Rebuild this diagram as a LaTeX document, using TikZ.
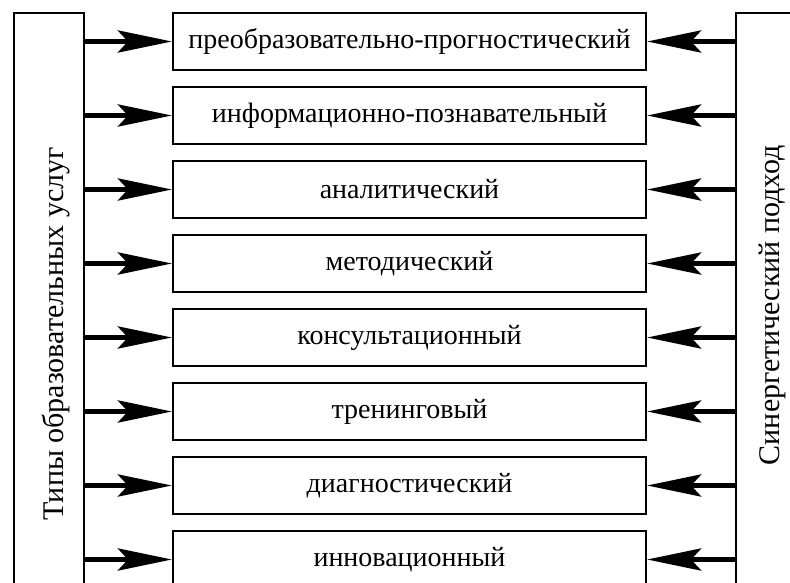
\documentclass[tikz,border=0pt]{standalone}
\usepackage{fontspec}
\setmainfont{Liberation Serif}
\usetikzlibrary{arrows.meta,positioning}

\begin{document}
\begin{tikzpicture}[node distance=7.5pt, font=\fontsize{14}{17}\selectfont]
  \tikzstyle{box}=[draw,line width=1pt,minimum width=236.5pt,minimum height=28.5pt,inner sep=0pt,align=center]
  \tikzstyle{bar}=[draw,line width=1.3pt,rotate=90,inner sep=0pt]
  \tikzstyle{side}=[rotate=90,inner sep=0pt,font=\fontsize{15}{18}\selectfont]
  \tikzstyle{arr}=[-{Stealth[length=27pt,width=11pt,inset=5pt]},line width=2.8pt]
  \useasboundingbox (0,0) rectangle (395pt,-291pt);
  % column of service types
  \node[box] (prog) at (204.75pt,-20.75pt) {преобразовательно-прогностический};
  \node[box,below=of prog] (info) {информационно-познавательный};
  \node[box,below=of info] (anal) {аналитический};
  \node[box,below=of anal] (meth) {методический};
  \node[box,below=of meth] (cons) {консультационный};
  \node[box,below=of cons] (train) {тренинговый};
  \node[box,below=of train] (diag) {диагностический};
  \node[box,below=of diag] (innov) {инновационный};
  % side bars, cut by the page edge
  \node[bar,minimum width=321pt,minimum height=35pt] (types) at (24.5pt,-167pt) {};
  \node[side] (typestxt) at ([xshift=3.5pt]types.center) {Типы образовательных услуг};
  \node[bar,minimum width=292pt,minimum height=36pt] (synerg) at (386pt,-152.5pt) {};
  \node[side] (synergtxt) at (synerg.center) {Синергетический подход};
  % arrows from the left bar
  \draw[arr] (types.south |- prog.west) -- (prog.west);
  \draw[arr] (types.south |- info.west) -- (info.west);
  \draw[arr] (types.south |- anal.west) -- (anal.west);
  \draw[arr] (types.south |- meth.west) -- (meth.west);
  \draw[arr] (types.south |- cons.west) -- (cons.west);
  \draw[arr] (types.south |- train.west) -- (train.west);
  \draw[arr] (types.south |- diag.west) -- (diag.west);
  \draw[arr] (types.south |- innov.west) -- (innov.west);
  % arrows from the right bar
  \draw[arr] (synerg.north |- prog.east) -- (prog.east);
  \draw[arr] (synerg.north |- info.east) -- (info.east);
  \draw[arr] (synerg.north |- anal.east) -- (anal.east);
  \draw[arr] (synerg.north |- meth.east) -- (meth.east);
  \draw[arr] (synerg.north |- cons.east) -- (cons.east);
  \draw[arr] (synerg.north |- train.east) -- (train.east);
  \draw[arr] (synerg.north |- diag.east) -- (diag.east);
  \draw[arr] (synerg.north |- innov.east) -- (innov.east);
\end{tikzpicture}
\end{document}
